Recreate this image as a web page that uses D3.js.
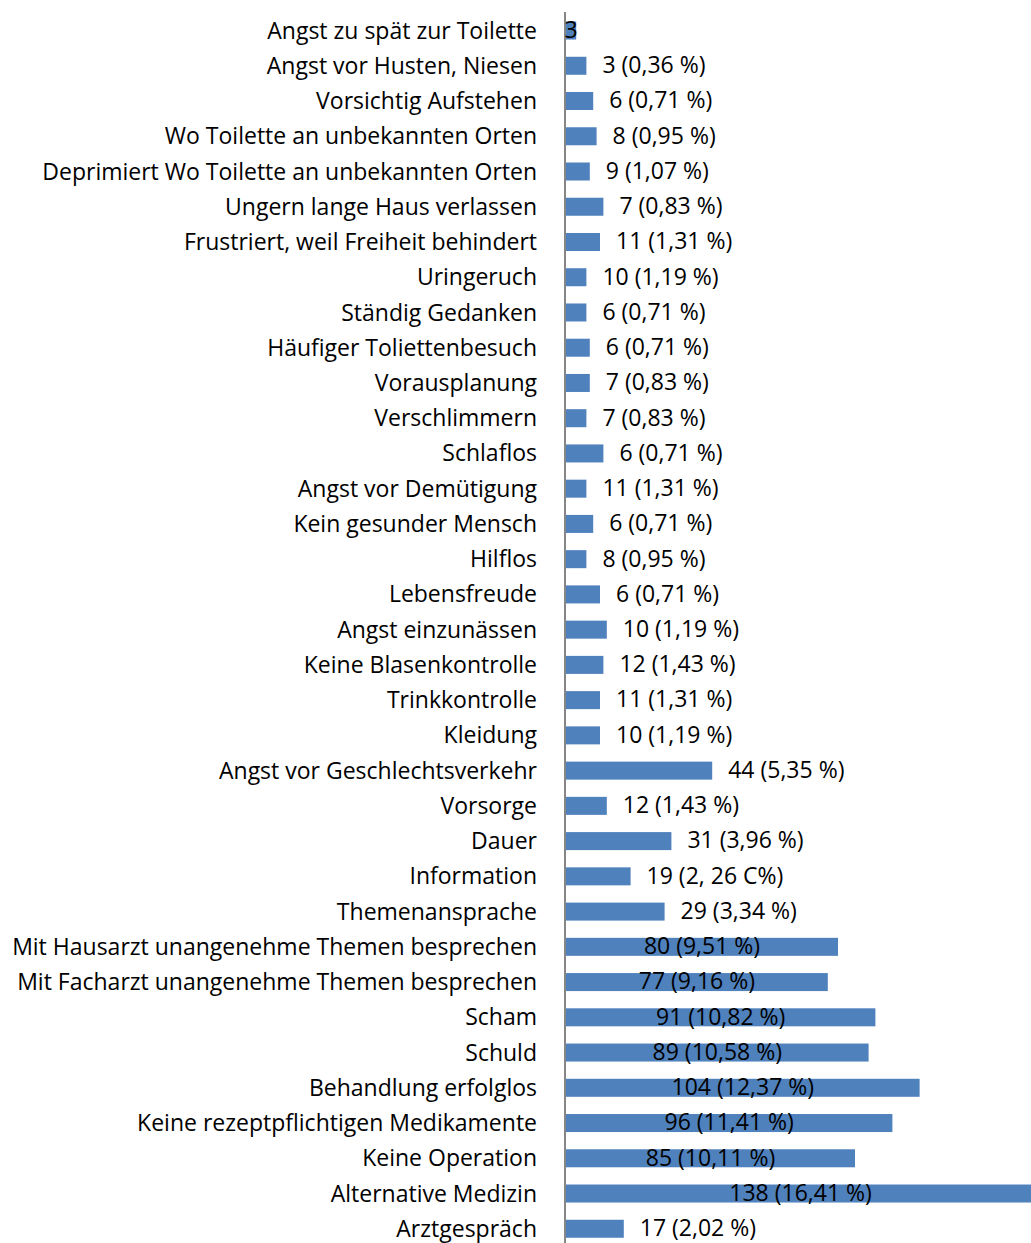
<!DOCTYPE html>
<html>
<head>
<meta charset="utf-8">
<script src="https://cdn.jsdelivr.net/npm/d3@7"></script>
<style>
  body { margin: 0; background: #fff; }
  text { font-family: "Open Sans", sans-serif; fill: #000; }
</style>
</head>
<body>
<div id="chart"></div>
<script>
// Kategorien (von oben nach unten)
var categories = [
    'Angst zu spät zur Toilette', 'Angst vor Husten, Niesen', 'Vorsichtig Aufstehen',
    'Wo Toilette an unbekannten Orten', 'Deprimiert Wo Toilette an unbekannten Orten',
    'Ungern lange Haus verlassen', 'Frustriert, weil Freiheit behindert', 'Uringeruch',
    'Ständig Gedanken', 'Häufiger Toliettenbesuch', 'Vorausplanung', 'Verschlimmern',
    'Schlaflos', 'Angst vor Demütigung', 'Kein gesunder Mensch', 'Hilflos', 'Lebensfreude',
    'Angst einzunässen', 'Keine Blasenkontrolle', 'Trinkkontrolle', 'Kleidung',
    'Angst vor Geschlechtsverkehr', 'Vorsorge', 'Dauer', 'Information', 'Themenansprache',
    'Mit Hausarzt unangenehme Themen besprechen', 'Mit Facharzt unangenehme Themen besprechen',
    'Scham', 'Schuld', 'Behandlung erfolglos', 'Keine rezeptpflichtigen Medikamente',
    'Keine Operation', 'Alternative Medizin', 'Arztgespräch'
];

// Balkenlängen
var barValues = [3, 6, 8, 9, 7, 11, 10, 6, 6, 7, 7, 6, 11, 6, 8, 6, 10, 12, 11, 10, 10,
    43, 12, 31, 19, 29, 80, 77, 91, 89, 104, 96, 85, 138, 17];

// Beschriftungen
var valueLabels = ['3', '3 (0,36 %)', '6 (0,71 %)', '8 (0,95 %)', '9 (1,07 %)', '7 (0,83 %)',
    '11 (1,31 %)', '10 (1,19 %)', '6 (0,71 %)', '6 (0,71 %)', '7 (0,83 %)', '7 (0,83 %)',
    '6 (0,71 %)', '11 (1,31 %)', '6 (0,71 %)', '8 (0,95 %)', '6 (0,71 %)', '10 (1,19 %)',
    '12 (1,43 %)', '11 (1,31 %)', '10 (1,19 %)', '44 (5,35 %)', '12 (1,43 %)', '31 (3,96 %)',
    '19 (2, 26 C%)', '29 (3,34 %)', '80 (9,51 %)', '77 (9,16 %)', '91 (10,82 %)',
    '89 (10,58 %)', '104 (12,37 %)', '96 (11,41 %)', '85 (10,11 %)', '138 (16,41 %)',
    '17 (2,02 %)'];

var width = 1031, height = 1243,
    axisX = 566,
    fontSize = '23px',
    svg = d3.select('#chart')
        .append('svg')
        .attr('width', width)
        .attr('height', height);

var data = categories.map(function (c, i) {
    return { name: c, value: barValues[i], label: valueLabels[i] };
});

var x = d3.scaleLinear()
    .domain([0, 140])
    .range([axisX, axisX + 476]);

var y = d3.scaleBand()
    .domain(categories)
    .range([4.3, 1255])
    .padding(0.489);

// Balken
svg.selectAll('.bar')
    .data(data)
    .enter().append('rect')
    .attr('class', 'bar')
    .attr('x', x(0))
    .attr('y', function (d) { return y(d.name); })
    .attr('width', function (d) { return x(d.value) - x(0); })
    .attr('height', y.bandwidth())
    .attr('fill', '#4f81bd');

// vertikale Achse
svg.append('line')
    .attr('x1', axisX - 1).attr('x2', axisX - 1)
    .attr('y1', 12).attr('y2', height)
    .attr('stroke', '#868686')
    .attr('stroke-width', 2);

// Kategorienbeschriftung
svg.selectAll('.cat')
    .data(data)
    .enter().append('text')
    .attr('class', 'cat')
    .attr('x', 537)
    .attr('y', function (d) { return y(d.name) + y.bandwidth() / 2; })
    .attr('dy', '0.35em')
    .attr('text-anchor', 'end')
    .style('font-size', fontSize)
    .text(function (d) { return d.name; });

// Werte: lange Balken mittig, sonst außerhalb
function inside(d) {
    return d.value >= 70 || d.label.indexOf('(') < 0;
}

svg.selectAll('.val')
    .data(data)
    .enter().append('text')
    .attr('class', 'val')
    .attr('x', function (d) {
        return inside(d) ? (x(0) + x(d.value)) / 2 : x(d.value) + 16;
    })
    .attr('y', function (d) { return y(d.name) + y.bandwidth() / 2; })
    .attr('dy', '0.32em')
    .attr('text-anchor', function (d) { return inside(d) ? 'middle' : 'start'; })
    .style('font-size', fontSize)
    .text(function (d) { return d.label; });
</script>
</body>
</html>
